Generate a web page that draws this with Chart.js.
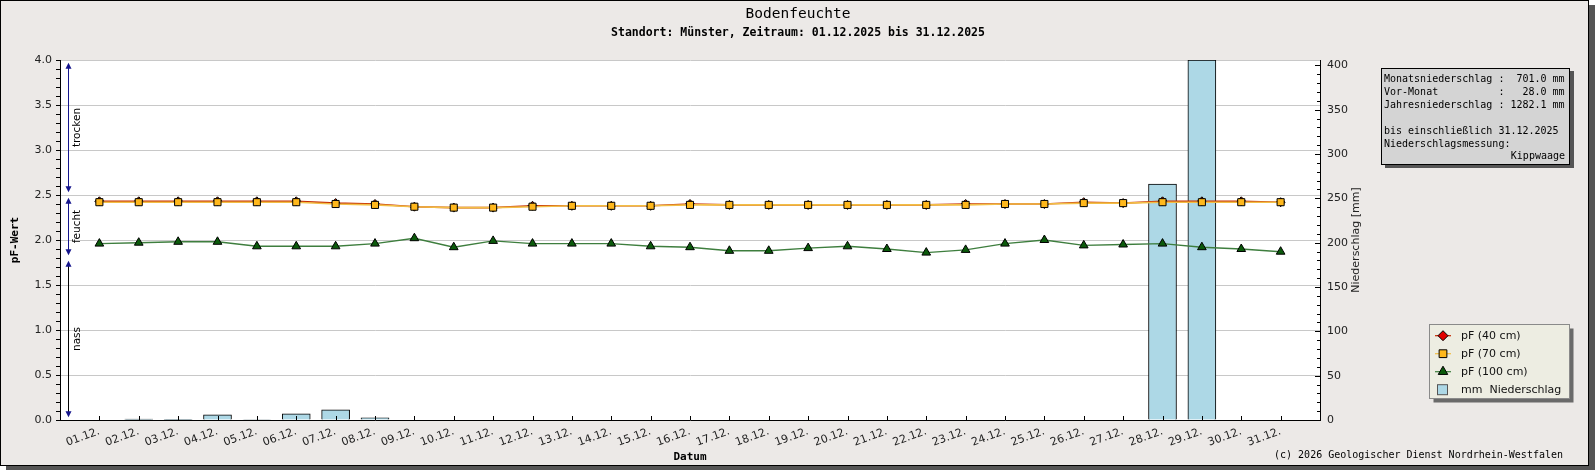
<!DOCTYPE html>
<html>
<head>
<meta charset="utf-8">
<script src="https://cdn.jsdelivr.net/npm/chart.js@4/dist/chart.umd.min.js"></script>
<style>
  html, body { margin: 0; padding: 0; background: #fff; overflow: hidden; }
  canvas { display: block; }
</style>
</head>
<body>
<canvas id="chart" width="1595" height="470" style="width:1595px;height:470px"></canvas>
<script>
// Tage im Dezember
const dayLabels = ['01.12.', '02.12.', '03.12.', '04.12.', '05.12.', '06.12.', '07.12.', '08.12.', '09.12.', '10.12.',
    '11.12.', '12.12.', '13.12.', '14.12.', '15.12.', '16.12.', '17.12.', '18.12.', '19.12.', '20.12.',
    '21.12.', '22.12.', '23.12.', '24.12.', '25.12.', '26.12.', '27.12.', '28.12.', '29.12.', '30.12.', '31.12.'];

// pF-Werte je Tiefe
const pf40 = [2.43, 2.43, 2.43, 2.43, 2.43, 2.43, 2.41, 2.40, 2.37, 2.36,
    2.36, 2.38, 2.38, 2.38, 2.38, 2.40, 2.39, 2.39, 2.39, 2.39,
    2.39, 2.39, 2.40, 2.40, 2.40, 2.42, 2.41, 2.43, 2.43, 2.43, 2.42];
const pf70 = [2.42, 2.42, 2.42, 2.42, 2.42, 2.42, 2.40, 2.39, 2.37, 2.36,
    2.36, 2.37, 2.38, 2.38, 2.38, 2.39, 2.39, 2.39, 2.39, 2.39,
    2.39, 2.39, 2.39, 2.40, 2.40, 2.41, 2.41, 2.42, 2.42, 2.42, 2.42];
const pf100 = [1.96, 1.97, 1.98, 1.98, 1.93, 1.93, 1.93, 1.96, 2.02, 1.92,
    1.99, 1.96, 1.96, 1.96, 1.93, 1.92, 1.88, 1.88, 1.91, 1.93,
    1.90, 1.86, 1.89, 1.96, 2.00, 1.94, 1.95, 1.96, 1.92, 1.90, 1.87];

// Niederschlag in mm
const precip = [0, 0.9, 0.8, 5.8, 0.6, 7.0, 11.5, 2.4, 0, 0,
    0, 0, 0, 0, 0, 0, 0, 0, 0, 0,
    0, 0, 0, 0, 0, 0, 0, 266.0, 406.0, 0, 0];

// Bereiche am linken Rand (pF)
const zoneNames = ['trocken', 'feucht', 'nass'];
const zoneFrom = [2.5, 1.8, 0.0];
const zoneTo = [4.0, 2.5, 1.8];

const infoLines = ['Monatsniederschlag :  701.0 mm', 'Vor-Monat          :   28.0 mm', 'Jahresniederschlag : 1282.1 mm',
    '', 'bis einschließlich 31.12.2025', 'Niederschlagsmessung:'];
const infoRight = 'Kippwaage';

const W = 1595, H = 470;
const BG = '#ECE9E7';
const MONO = '"DejaVu Sans Mono", monospace';
const SANS = '"DejaVu Sans", sans-serif';

function pts(arr) {
    return arr.map((v, i) => ({ x: i + 1, y: v }));
}

// Rahmen, Hintergrund, Titel
const framePlugin = {
    id: 'framePlugin',
    beforeDraw(chart) {
        const ctx = chart.ctx;
        const a = chart.chartArea;
        ctx.save();
        ctx.fillStyle = '#fff';
        ctx.fillRect(0, 0, W, H);
        ctx.fillStyle = '#555';
        ctx.fillRect(6, 5, W - 6, H - 5);
        ctx.fillStyle = BG;
        ctx.fillRect(0, 0, 1589, 466);
        ctx.strokeStyle = '#000';
        ctx.lineWidth = 1;
        ctx.strokeRect(0.5, 0.5, 1588, 465);
        ctx.fillStyle = '#fff';
        ctx.fillRect(a.left, a.top, a.right - a.left, a.bottom - a.top);

        ctx.fillStyle = '#000';
        ctx.textAlign = 'center';
        ctx.textBaseline = 'middle';
        ctx.font = '14.5px ' + MONO;
        ctx.fillText('Bodenfeuchte', 798, 14);
        ctx.font = 'bold 11.5px ' + MONO;
        ctx.fillText('Standort: Münster, Zeitraum: 01.12.2025 bis 31.12.2025', 798, 33);
        ctx.restore();
    }
};

// Teilstriche, Bereichspfeile, Achsentitel, Legende, Infobox
const extrasPlugin = {
    id: 'extrasPlugin',
    afterDraw(chart) {
        const ctx = chart.ctx;
        const { x, y, y2 } = chart.scales;
        const a = chart.chartArea;
        ctx.save();

        // Teilstriche
        ctx.strokeStyle = '#000';
        ctx.lineWidth = 1;
        ctx.beginPath();
        for (let i = 0; i <= 40; i++) {
            const py = Math.round(y.getPixelForValue(i / 10)) + 0.5;
            ctx.moveTo(a.left - 4, py);
            ctx.lineTo(a.left, py);
        }
        for (let v = 0; v <= 400; v += 10) {
            const py = Math.round(y2.getPixelForValue(v)) + 0.5;
            ctx.moveTo(a.right - (v % 50 === 0 ? 5 : 3), py);
            ctx.lineTo(a.right, py);
        }
        for (let d = 1; d <= dayLabels.length; d++) {
            const px = Math.round(x.getPixelForValue(d)) + 0.5;
            ctx.moveTo(px, a.bottom - 4);
            ctx.lineTo(px, a.bottom);
        }
        ctx.stroke();

        // Bereichspfeile links
        const lx = 68.5;
        const inset = 0.03;
        zoneNames.forEach((name, i) => {
            const top = y.getPixelForValue(zoneTo[i] - inset);
            const bot = y.getPixelForValue(zoneFrom[i] + inset);
            ctx.strokeStyle = i < 2 ? '#14148C' : '#000';
            ctx.beginPath();
            ctx.moveTo(lx, top + 3);
            ctx.lineTo(lx, bot - 3);
            ctx.stroke();
            ctx.fillStyle = '#14148C';
            ctx.beginPath();
            ctx.moveTo(lx, top);
            ctx.lineTo(lx - 3, top + 6);
            ctx.lineTo(lx + 3, top + 6);
            ctx.closePath();
            ctx.fill();
            ctx.beginPath();
            ctx.moveTo(lx, bot);
            ctx.lineTo(lx - 3, bot - 6);
            ctx.lineTo(lx + 3, bot - 6);
            ctx.closePath();
            ctx.fill();
            ctx.save();
            ctx.translate(77, (top + bot) / 2);
            ctx.rotate(-Math.PI / 2);
            ctx.fillStyle = '#000';
            ctx.font = '10.5px ' + SANS;
            ctx.textAlign = 'center';
            ctx.textBaseline = 'middle';
            ctx.fillText(name, 0, 0);
            ctx.restore();
        });

        // Achsentitel
        ctx.fillStyle = '#000';
        ctx.textAlign = 'center';
        ctx.textBaseline = 'middle';
        ctx.font = 'bold 11px ' + MONO;
        ctx.fillText('Datum', (a.left + a.right) / 2, 457);
        ctx.save();
        ctx.translate(15, (a.top + a.bottom) / 2);
        ctx.rotate(-Math.PI / 2);
        ctx.fillText('pF-Wert', 0, 0);
        ctx.restore();
        ctx.save();
        ctx.translate(1356, (a.top + a.bottom) / 2);
        ctx.rotate(-Math.PI / 2);
        ctx.font = '11px ' + SANS;
        ctx.fillStyle = '#222';
        ctx.fillText('Niederschlag [mm]', 0, 0);
        ctx.restore();

        // Copyright
        ctx.font = '10px ' + MONO;
        ctx.textAlign = 'right';
        ctx.fillStyle = '#000';
        ctx.fillText('(c) 2026 Geologischer Dienst Nordrhein-Westfalen', 1563, 455);

        // Infobox
        ctx.fillStyle = '#555';
        ctx.fillRect(1385, 71, 189, 97);
        ctx.fillStyle = '#D4D4D4';
        ctx.fillRect(1381.5, 68.5, 188, 96);
        ctx.strokeStyle = '#000';
        ctx.strokeRect(1381.5, 68.5, 188, 96);
        ctx.fillStyle = '#000';
        ctx.font = '10px ' + MONO;
        ctx.textAlign = 'left';
        infoLines.forEach((t, i) => ctx.fillText(t, 1384, 79.5 + i * 12.9));
        ctx.textAlign = 'right';
        ctx.fillText(infoRight, 1565, 79.5 + infoLines.length * 12.9);

        // Legende
        ctx.fillStyle = '#6A6A6A';
        ctx.fillRect(1433.5, 328.5, 140, 74);
        ctx.fillStyle = '#EDEDE2';
        ctx.fillRect(1429.5, 324.5, 140, 74);
        ctx.strokeStyle = '#8A8A8A';
        ctx.strokeRect(1429.5, 324.5, 140, 74);
        const ds = chart.data.datasets;
        const legendOrder = [1, 0, 2, 3];
        legendOrder.forEach((k, i) => {
            const d = ds[k];
            const cy = 335.7 + i * 18;
            if (d.type === 'bar') {
                ctx.fillStyle = d.backgroundColor;
                ctx.fillRect(1437.5, cy - 5, 10, 10);
                ctx.strokeStyle = '#555';
                ctx.strokeRect(1437.5, cy - 5, 10, 10);
            } else {
                ctx.strokeStyle = d.borderColor;
                ctx.lineWidth = 1.2;
                ctx.beginPath();
                ctx.moveTo(1435, cy);
                ctx.lineTo(1451, cy);
                ctx.stroke();
                ctx.fillStyle = d.backgroundColor;
                ctx.strokeStyle = '#000';
                ctx.lineWidth = 1;
                Chart.helpers.drawPoint(ctx, { pointStyle: d.pointStyle, radius: d.pointRadius + 0.5, rotation: 0, borderWidth: 1 }, 1443, cy);
            }
            ctx.fillStyle = '#111';
            ctx.font = '11px ' + SANS;
            ctx.textAlign = 'left';
            ctx.fillText(d.label, 1461, cy);
        });

        ctx.restore();
    }
};

const tickFont = { family: SANS, size: 11 };

new Chart(document.getElementById('chart'), {
    type: 'line',
    data: {
        datasets: [
            {
                label: 'pF (70 cm)', data: pts(pf70), yAxisID: 'y', order: 1,
                borderColor: '#F2BE45', backgroundColor: '#FFB81C', borderWidth: 1.6,
                pointStyle: 'rect', pointRadius: 5, pointBorderColor: '#000', pointBorderWidth: 1,
                pointBackgroundColor: '#FFB81C', tension: 0
            },
            {
                label: 'pF (40 cm)', data: pts(pf40), yAxisID: 'y', order: 2,
                borderColor: '#C42A00', backgroundColor: '#E00000', borderWidth: 1.6,
                pointStyle: 'rectRot', pointRadius: 4.5, pointBorderColor: '#000', pointBorderWidth: 1,
                pointBackgroundColor: '#B02000', tension: 0
            },
            {
                label: 'pF (100 cm)', data: pts(pf100), yAxisID: 'y', order: 3,
                borderColor: '#3E7E3E', backgroundColor: '#0B5A0B', borderWidth: 1.4,
                pointStyle: 'triangle', pointRadius: 5, pointBorderColor: '#000', pointBorderWidth: 1,
                pointBackgroundColor: '#0B5A0B', tension: 0
            },
            {
                type: 'bar', label: 'mm  Niederschlag', data: pts(precip), yAxisID: 'y2', order: 4,
                backgroundColor: '#ADD8E6', borderColor: '#000', borderWidth: 1, barThickness: 28
            }
        ]
    },
    options: {
        responsive: false,
        animation: false,
        layout: { padding: { top: 60, left: 0, right: 0, bottom: 0 } },
        plugins: { legend: { display: false }, title: { display: false }, tooltip: { enabled: false } },
        scales: {
            x: {
                type: 'linear', min: 0, max: 32, offset: false,
                afterBuildTicks: s => { s.ticks = dayLabels.map((l, i) => ({ value: i + 1 })); },
                afterFit: s => { s.height = 50; },
                ticks: {
                    autoSkip: false, minRotation: 20, maxRotation: 20, padding: 5,
                    font: tickFont, color: '#222',
                    callback: v => dayLabels[v - 1]
                },
                grid: { display: false, drawTicks: false, offset: false },
                border: { color: '#000', width: 1 }
            },
            y: {
                position: 'left', min: 0, max: 4,
                afterFit: s => { s.width = 60; },
                ticks: { stepSize: 0.5, padding: 8, font: tickFont, color: '#222', callback: v => v.toFixed(1) },
                grid: { color: c => (c.tick && c.tick.value === 0) ? 'rgba(0,0,0,0)' : '#C8C8C8', drawTicks: false },
                border: { color: '#000', width: 1 }
            },
            y2: {
                position: 'right', min: 0, max: 406,
                afterFit: s => { s.width = 275; },
                ticks: { stepSize: 50, includeBounds: false, padding: 7, font: tickFont, color: '#222' },
                grid: { drawOnChartArea: false, drawTicks: false },
                border: { color: '#000', width: 1 }
            }
        }
    },
    plugins: [framePlugin, extrasPlugin]
});
</script>
</body>
</html>
